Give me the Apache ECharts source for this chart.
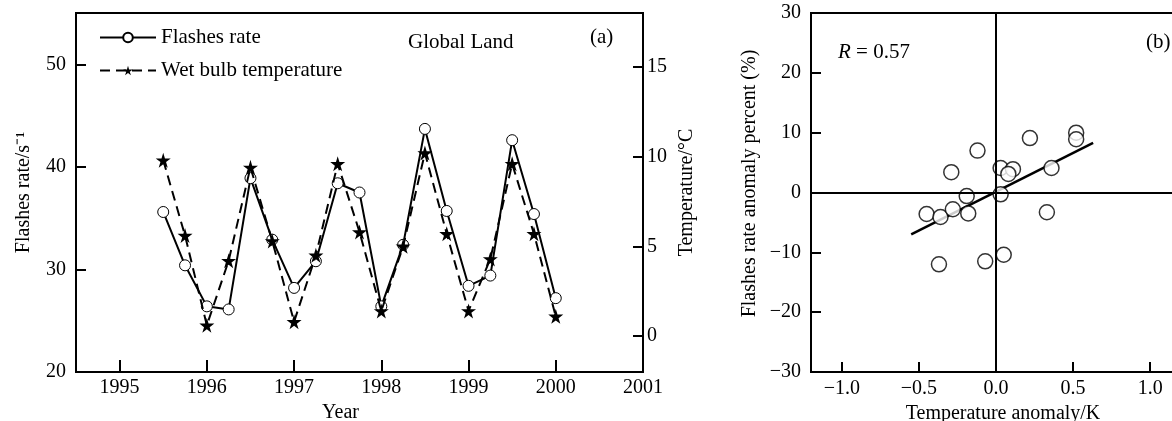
<!DOCTYPE html>
<html>
<head>
<meta charset="utf-8">
<script src="https://cdn.jsdelivr.net/npm/echarts@6/dist/echarts.min.js"></script>
<style>
  html, body { margin: 0; padding: 0; background: #fff; }
  #main { width: 1172px; height: 421px; }
</style>
</head>
<body>
<div id="main"></div>
<script>
// (a) 时间序列, 季度
const years = [1995.5, 1995.75, 1996, 1996.25, 1996.5, 1996.75, 1997, 1997.25, 1997.5, 1997.75,
  1998, 1998.25, 1998.5, 1998.75, 1999, 1999.25, 1999.5, 1999.75, 2000];
const flashRate = [35.6, 30.4, 26.4, 26.1, 38.9, 32.9, 28.2, 30.8, 38.4, 37.5,
  26.4, 32.4, 43.7, 35.7, 28.4, 29.4, 42.6, 35.4, 27.2];
const wetBulb = [9.8, 5.6, 0.6, 4.2, 9.4, 5.3, 0.8, 4.5, 9.6, 5.8,
  1.4, 5.0, 10.2, 5.7, 1.4, 4.3, 9.6, 5.7, 1.1];
const yearTicks = [1995, 1996, 1997, 1998, 1999, 2000, 2001];
const flashTicks = [20, 30, 40, 50];
const tempTicks = [0, 5, 10, 15];

// (b) 散点
const anomX = [-0.12, -0.29, 0.03, 0.11, 0.08, 0.22, 0.52, 0.52, 0.36, 0.03,
  -0.19, -0.45, -0.36, -0.28, -0.18, 0.33, -0.37, -0.07, 0.05];
const anomY = [7.0, 3.4, 4.1, 3.9, 3.1, 9.1, 10.0, 8.9, 4.1, -0.3,
  -0.6, -3.6, -4.1, -2.8, -3.5, -3.3, -12.0, -11.5, -10.4];
const fitX = [-0.55, 0.63];
const fitY = [-7.0, 8.3];
const anomXTicks = [-1.0, -0.5, 0, 0.5, 1.0];

const font = 'Liberation Serif';
const fs = 20;   // 刻度、坐标轴名
const fsT = 21;  // 图例、标注
const pairs = (xs, ys) => xs.map((x, i) => [x, ys[i]]);
const minus = v => String(v).replace('-', '\u2212');
const star = 'path://M50,0 L61,35 L98,35 L68,57 L79,91 L50,70 L21,91 L32,57 L2,35 L39,35 Z';

const lineAx = { show: true, onZero: false, lineStyle: { color: '#000', width: 2 } };
const tickIn = (len, vals) => ({ show: true, inside: true, length: len, customValues: vals, lineStyle: { color: '#000', width: 2 } });
const lab = (margin, vals, fmt) => ({ color: '#000', fontFamily: font, fontSize: fs, margin, customValues: vals, formatter: fmt || (v => String(v)) });
const nameStyle = { color: '#000', fontFamily: font, fontSize: fs };
const tStyle = { fontFamily: font, fontSize: fsT, fontWeight: 'normal', color: '#000' };

const myChart = echarts.init(document.getElementById('main'));
const option = {
  animation: false,
  textStyle: { fontFamily: font },
  title: [
    { text: 'Global Land', left: 403, top: 27, textStyle: tStyle },
    { text: '(a)', left: 585, top: 22, textStyle: tStyle },
    {
      text: '{i|R} = 0.57', left: 833, top: 37,
      textStyle: Object.assign({ rich: { i: { fontFamily: font, fontSize: fsT, fontStyle: 'italic', color: '#000' } } }, tStyle)
    },
    { text: '(b)', left: 1141, top: 27, textStyle: tStyle }
  ],
  legend: {
    data: ['Flashes rate', 'Wet bulb temperature'],
    orient: 'vertical',
    left: 94,
    top: 22,
    itemWidth: 56,
    itemHeight: 12,
    itemGap: 12,
    textStyle: { color: '#000', fontFamily: font, fontSize: fsT }
  },
  grid: [
    { left: 76, top: 13, width: 567, height: 359, outerBoundsMode: 'none', show: true, borderColor: '#000', borderWidth: 2, backgroundColor: 'transparent' },
    { left: 811, top: 13, width: 370, height: 359, outerBoundsMode: 'none', show: true, borderColor: '#000', borderWidth: 2, backgroundColor: 'transparent' }
  ],
  xAxis: [
    {
      gridIndex: 0, type: 'value', min: 1994.5, max: 2001,
      name: 'Year', nameLocation: 'middle', nameGap: 28,
      nameTextStyle: Object.assign({ padding: [0, 38, 0, 0] }, nameStyle),
      axisLine: lineAx, axisTick: tickIn(12, yearTicks), axisLabel: lab(6, yearTicks),
      splitLine: { show: false }
    },
    {
      gridIndex: 1, type: 'value', min: -1.2, max: 1.2,
      name: 'Temperature anomaly/K', nameLocation: 'middle', nameGap: 29,
      nameTextStyle: Object.assign({ padding: [0, 0, 0, 14] }, nameStyle),
      axisLine: lineAx, axisTick: tickIn(10, anomXTicks),
      axisLabel: lab(7, anomXTicks, v => minus(v.toFixed(1))),
      splitLine: { show: false }
    }
  ],
  yAxis: [
    {
      gridIndex: 0, type: 'value', min: 20, max: 55,
      name: 'Flashes rate/s\u207B\u00B9', nameLocation: 'middle', nameGap: 42, nameTextStyle: nameStyle,
      axisLine: lineAx, axisTick: tickIn(10, flashTicks), axisLabel: lab(10, flashTicks),
      splitLine: { show: false }
    },
    {
      gridIndex: 0, type: 'value', min: -2, max: 18, position: 'right',
      name: 'Temperature/\u00B0C', nameLocation: 'middle', nameGap: 34, nameTextStyle: nameStyle,
      axisLine: lineAx, axisTick: tickIn(10, tempTicks), axisLabel: lab(4, tempTicks),
      splitLine: { show: false }
    },
    {
      gridIndex: 1, type: 'value', min: -30, max: 30, interval: 10,
      name: 'Flashes rate anomaly percent (%)', nameLocation: 'middle', nameGap: 51,
      nameTextStyle: Object.assign({ padding: [0, 0, 0, 18] }, nameStyle),
      axisLine: lineAx, axisTick: { show: true, inside: true, length: 10, lineStyle: { color: '#000', width: 2 } },
      axisLabel: { color: '#000', fontFamily: font, fontSize: fs, margin: 10, formatter: v => minus(v) },
      splitLine: { show: false }
    }
  ],
  series: [
    {
      name: 'Flashes rate', type: 'line', xAxisIndex: 0, yAxisIndex: 0,
      data: pairs(years, flashRate),
      symbol: 'circle', symbolSize: 11,
      lineStyle: { color: '#000', width: 2 },
      itemStyle: { color: '#fff', borderColor: '#000', borderWidth: 1 },
      z: 2
    },
    {
      name: 'Wet bulb temperature', type: 'line', xAxisIndex: 0, yAxisIndex: 1,
      data: pairs(years, wetBulb),
      symbol: star, symbolSize: 15,
      lineStyle: { color: '#000', width: 2, type: [10, 6] },
      itemStyle: { color: '#000' },
      z: 3
    },
    {
      // 零线
      type: 'line', xAxisIndex: 1, yAxisIndex: 2, data: [], z: 1,
      markLine: {
        silent: true, symbol: 'none', label: { show: false },
        lineStyle: { color: '#000', width: 2, type: 'solid' },
        data: [{ xAxis: 0 }, { yAxis: 0 }]
      }
    },
    {
      type: 'line', xAxisIndex: 1, yAxisIndex: 2,
      data: pairs(fitX, fitY), showSymbol: false, symbol: 'none',
      lineStyle: { color: '#000', width: 2.5 }, z: 2
    },
    {
      type: 'scatter', xAxisIndex: 1, yAxisIndex: 2,
      data: pairs(anomX, anomY),
      symbol: 'circle', symbolSize: 15,
      itemStyle: { color: '#fff', borderColor: '#000', borderWidth: 1.5 },
      z: 3
    }
  ]
};
myChart.setOption(option);
</script>
</body>
</html>
